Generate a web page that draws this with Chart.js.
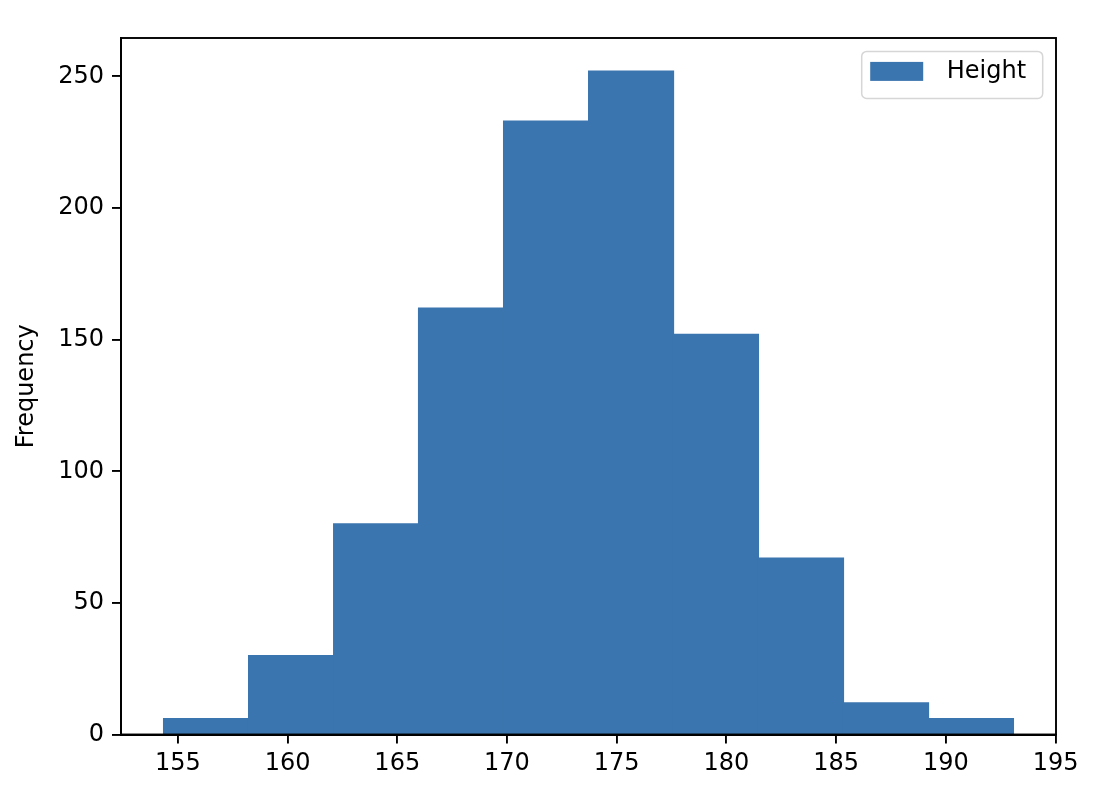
<!DOCTYPE html>
<html>
<head>
    <title>Height histogram</title>
    <script src="https://cdn.jsdelivr.net/npm/chart.js"></script>
    <style>
        html, body { margin: 0; padding: 0; background: #fff; }
        #wrap { width: 1094px; height: 786px; }
    </style>
</head>
<body>
    <div id="wrap"><canvas id="myChart"></canvas></div>
    <script>
        // Histogram data
        const binEdges = [154.35, 158.22, 162.10, 165.97, 169.84, 173.72, 177.59, 181.46, 185.34, 189.21, 193.08];
        const counts = [6, 30, 80, 162, 233, 252, 152, 67, 12, 6];
        const seriesLabel = 'Height';
        const xTicks = [155, 160, 165, 170, 175, 180, 185, 190, 195];
        const yTicks = [0, 50, 100, 150, 200, 250];
        const xLimits = [152.41, 195.02];
        const yLimits = [0, 264.6];

        const barColor = 'rgb(59, 117, 175)';
        const fontFamily = '"DejaVu Sans", sans-serif';
        const fontSize = 24;

        // bar centres from the bin edges
        const points = counts.map((c, i) => ({ x: (binEdges[i] + binEdges[i + 1]) / 2, y: c }));

        // frame round the plot area and a matplotlib-like legend
        const framePlugin = {
            id: 'frame',
            afterDraw(chart) {
                const { ctx, chartArea: a } = chart;
                ctx.save();
                ctx.strokeStyle = '#000';
                ctx.lineWidth = 1.9;
                ctx.strokeRect(a.left, a.top, a.right - a.left, a.bottom - a.top);

                // legend
                const ds = chart.data.datasets[0];
                const w = 181, h = 47, x = a.right - 13.3 - w, y = a.top + 13.4;
                ctx.beginPath();
                ctx.roundRect(x, y, w, h, 5);
                ctx.fillStyle = 'rgba(255,255,255,0.8)';
                ctx.fill();
                ctx.strokeStyle = '#d6d6d6';
                ctx.lineWidth = 1.5;
                ctx.stroke();
                ctx.fillStyle = ds.backgroundColor;
                ctx.fillRect(x + 8.5, y + 10.5, 53, 19);
                ctx.fillStyle = '#000';
                ctx.font = fontSize + 'px ' + fontFamily;
                ctx.textBaseline = 'middle';
                ctx.textAlign = 'left';
                ctx.fillText(ds.label, x + 85, y + 20.5);
                ctx.restore();
            }
        };

        const ctx = document.getElementById('myChart').getContext('2d');
        new Chart(ctx, {
            type: 'bar',
            data: {
                datasets: [{
                    label: seriesLabel,
                    data: points,
                    backgroundColor: barColor,
                    borderWidth: 0,
                    inflateAmount: 0.6,
                    barPercentage: 1,
                    categoryPercentage: 1
                }]
            },
            options: {
                responsive: true,
                maintainAspectRatio: false,
                animation: false,
                layout: { padding: { top: 38, right: 38, left: 0, bottom: 0 } },
                plugins: {
                    legend: { display: false },
                    tooltip: { enabled: false }
                },
                scales: {
                    x: {
                        type: 'linear',
                        min: xLimits[0],
                        max: xLimits[1],
                        offset: false,
                        grid: { offset: false, drawOnChartArea: false, drawTicks: true, tickLength: 9, color: '#000', lineWidth: 1.9 },
                        border: { display: true, color: '#000', width: 1.9 },
                        ticks: {
                            color: '#000',
                            font: { family: fontFamily, size: fontSize },
                            padding: 6,
                            maxRotation: 0,
                            autoSkip: false
                        },
                        afterBuildTicks(scale) {
                            scale.ticks = xTicks.map(v => ({ value: v }));
                        },
                        afterFit(scale) { scale.height = 51.5; }
                    },
                    y: {
                        min: yLimits[0],
                        max: yLimits[1],
                        grid: { drawOnChartArea: false, drawTicks: true, tickLength: 9, color: '#000', lineWidth: 1.9 },
                        border: { display: true, color: '#000', width: 1.9 },
                        ticks: {
                            color: '#000',
                            font: { family: fontFamily, size: fontSize },
                            padding: 8
                        },
                        afterBuildTicks(scale) {
                            scale.ticks = yTicks.map(v => ({ value: v }));
                        },
                        title: {
                            display: true,
                            text: 'Frequency',
                            color: '#000',
                            font: { family: fontFamily, size: fontSize },
                            padding: { top: 12, bottom: 0 }
                        },
                        afterFit(scale) { scale.width = 121; }
                    }
                }
            },
            plugins: [framePlugin]
        });
    </script>
</body>
</html>
